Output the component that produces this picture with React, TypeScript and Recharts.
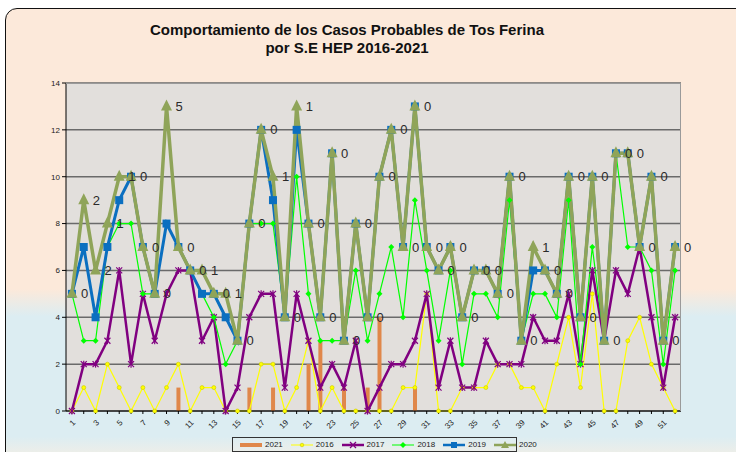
import { Bar, CartesianGrid, ComposedChart, LabelList, Line, XAxis, YAxis } from 'recharts';

const weeks = [
  1, 2, 3, 4, 5, 6, 7, 8, 9, 10, 11, 12, 13, 14, 15, 16, 17, 18, 19, 20, 21, 22, 23, 24, 25, 26,
  27, 28, 29, 30, 31, 32, 33, 34, 35, 36, 37, 38, 39, 40, 41, 42, 43, 44, 45, 46, 47, 48, 49, 50, 51, 52,
];
const cases2021 = [
  0, 0, 0, 0, 0, 0, 0, 0, 0, 1, 0, 0, 0, 0, 0, 1, 0, 1, 0, 0, 2, 3, 0, 1, 0, 1,
  4, 0, 0, 1, 0, 0, 0, 0, 0, 0, 0, 0, 0, 0, 0, 0, 0, 0, 0, 0, 0, 0, 0, 0, 0, 0,
];
const cases2016 = [
  0, 1, 0, 2, 1, 0, 1, 0, 1, 2, 0, 1, 1, 0, 0, 0, 2, 2, 0, 1, 3, 0, 1, 0, 0, 0,
  0, 0, 1, 1, 5, 0, 0, 1, 1, 1, 2, 2, 1, 1, 0, 2, 4, 1, 5, 0, 0, 3, 4, 2, 1, 0,
];
const cases2017 = [
  0, 2, 2, 3, 6, 2, 5, 3, 5, 6, 6, 3, 4, 0, 1, 4, 5, 5, 1, 5, 3, 1, 2, 1, 3, 0,
  1, 2, 2, 3, 5, 1, 3, 1, 1, 3, 2, 2, 2, 4, 3, 3, 5, 2, 6, 3, 6, 5, 7, 4, 1, 4,
];
const cases2018 = [
  5, 3, 3, 7, 8, 8, 5, 5, 8, 7, 6, 5, 4, 2, 3, 8, 8, 8, 4, 10, 5, 3, 3, 3, 6, 3,
  5, 7, 4, 9, 6, 3, 6, 2, 5, 5, 4, 9, 3, 5, 5, 4, 9, 2, 7, 3, 11, 7, 7, 6, 2, 6,
];
const cases2019 = [
  5, 7, 4, 7, 9, 10, 7, 5, 8, 7, 6, 5, 5, 4, 3, 8, 12, 9, 4, 12, 8, 4, 11, 3, 8, 4,
  10, 12, 7, 13, 7, 6, 7, 4, 6, 6, 5, 10, 3, 6, 6, 5, 10, 4, 10, 3, 11, 11, 7, 10, 3, 7,
];
const cases2020 = [
  5, 9, 6, 8, 10, 10, 7, 5, 13, 7, 6, 6, 5, 5, 3, 8, 12, 10, 4, 13, 8, 4, 11, 3, 8, 4,
  10, 12, 7, 13, 7, 6, 7, 4, 6, 6, 5, 10, 3, 7, 6, 5, 10, 4, 10, 3, 11, 11, 7, 10, 3, 7,
];
// etiquetas que aparecen junto a la serie 2020
const labels2020 = [
  0, 2, 2, 1, 1, 0, 0, 0, 5, 0, 0, 1, 0, 1, 0, 0, 0, 1, 0, 1, 0, 0, 0, 0, 0, 0,
  0, 0, 0, 0, 0, 0, 0, 0, 0, 0, 0, 0, 0, 1, 0, 0, 0, 0, 0, 0, 0, 0, 0, 0, 0, 0,
];
const yTicks = [0, 2, 4, 6, 8, 10, 12, 14];
const seriesNames = ['2021', '2016', '2017', '2018', '2019', '2020'];

const data = weeks.map((w, i) => ({
  week: w,
  s2021: cases2021[i],
  s2016: cases2016[i],
  s2017: cases2017[i],
  s2018: cases2018[i],
  s2019: cases2019[i],
  s2020: cases2020[i],
  lbl: labels2020[i],
}));

const C = {
  s2021: '#E0874A',
  s2016: '#FFFF00',
  s2017: '#800080',
  s2018: '#00FF00',
  s2019: '#0B6FC0',
  s2020: '#8FA459',
};

const FONT = '"Liberation Sans", Arial, sans-serif';

const SquareDot = (p: any) => (
  <rect key={`sq${p.index}`} x={p.cx - 4} y={p.cy - 4} width={8} height={8} fill={C.s2019} />
);
const TriDot = (p: any) => (
  <polygon
    key={`tr${p.index}`}
    points={`${p.cx},${p.cy - 7} ${p.cx - 5.5},${p.cy + 4} ${p.cx + 5.5},${p.cy + 4}`}
    fill={C.s2020}
  />
);
const DiamondDot = (p: any) => (
  <polygon
    key={`dm${p.index}`}
    points={`${p.cx},${p.cy - 3} ${p.cx + 3},${p.cy} ${p.cx},${p.cy + 3} ${p.cx - 3},${p.cy}`}
    fill={C.s2018}
  />
);
const StarDot = (p: any) => (
  <g key={`st${p.index}`} stroke={C.s2017} strokeWidth={1.2}>
    <line x1={p.cx - 3} y1={p.cy - 3} x2={p.cx + 3} y2={p.cy + 3} />
    <line x1={p.cx - 3} y1={p.cy + 3} x2={p.cx + 3} y2={p.cy - 3} />
    <line x1={p.cx} y1={p.cy - 3.5} x2={p.cx} y2={p.cy + 3.5} />
  </g>
);
const CircleDot = (p: any) => (
  <circle key={`ci${p.index}`} cx={p.cx} cy={p.cy} r={2} fill={C.s2016} stroke="#C9C900" strokeWidth={0.6} />
);

const XTick = (p: any) => {
  const { x, y, payload } = p;
  if (payload.value % 2 === 0) return <g />;
  return (
    <text
      transform={`translate(${x + 4},${y + 7}) rotate(-45)`}
      textAnchor="end"
      fontSize={8}
      fontFamily={FONT}
      fill="#222"
    >
      {payload.value}
    </text>
  );
};

const renderLabel = (p: any) => {
  const { x, y, value, index } = p;
  return (
    <text key={`lb${index}`} x={x + 9} y={y + 4.5} fontSize={13} fontFamily={FONT} fill="#2a2a2a">
      {value}
    </text>
  );
};

const LegendSwatch = ({ name }: { name: string }) => {
  const key = `s${name}` as keyof typeof C;
  const color = C[key];
  return (
    <svg width={22} height={10} style={{ display: 'block' }}>
      {name === '2021' ? (
        <rect x={0} y={3} width={22} height={4} fill={color} />
      ) : (
        <g>
          <line x1={0} y1={5} x2={22} y2={5} stroke={color} strokeWidth={name === '2016' || name === '2018' ? 1 : 2.5} />
          {name === '2016' && <circle cx={11} cy={5} r={1.8} fill={color} stroke="#C9C900" strokeWidth={0.6} />}
          {name === '2017' && (
            <g stroke={color} strokeWidth={1.2}>
              <line x1={8} y1={2} x2={14} y2={8} />
              <line x1={8} y1={8} x2={14} y2={2} />
            </g>
          )}
          {name === '2018' && <polygon points="11,2 14,5 11,8 8,5" fill={color} />}
          {name === '2019' && <rect x={8} y={2} width={6} height={6} fill={color} />}
          {name === '2020' && <polygon points="11,1 15,8 7,8" fill={color} />}
        </g>
      )}
    </svg>
  );
};

export default function App() {
  return (
    <div
      style={{
        position: 'absolute',
        left: 0,
        top: 0,
        width: 736,
        height: 452,
        overflow: 'hidden',
        background: '#fff',
        fontFamily: FONT,
      }}
    >
      <div
        style={{
          position: 'absolute',
          left: 5,
          top: 8,
          width: 800,
          height: 500,
          border: '1.5px solid #111',
          borderRadius: 12,
          background:
            'linear-gradient(to bottom, #FCE9DA 0%, #FCE9DA 56%, #DCEDF2 61.5%, #DCEDF2 85.5%, #EEEEE8 89%)',
        }}
      />
      <div
        style={{
          position: 'absolute',
          left: 0,
          width: 694,
          top: 21,
          textAlign: 'center',
          fontSize: 15,
          fontWeight: 'bold',
          lineHeight: '18px',
          color: '#111',
        }}
      >
        <div>Comportamiento de los Casos Probables de Tos Ferina</div>
        <div>por S.E HEP 2016-2021</div>
      </div>
      <div style={{ position: 'absolute', left: 0, top: 0 }}>
        <ComposedChart width={736} height={452} data={data} margin={{ top: 83, right: 55, bottom: 11, left: 0 }}>
          <CartesianGrid vertical={false} fill="#E2DFDC" stroke="#6a6a6a" strokeWidth={1.5} />
          <XAxis
            dataKey="week"
            interval={0}
            height={30}
            tick={<XTick />}
            tickSize={3}
            axisLine={{ stroke: '#000' }}
            tickLine={{ stroke: '#000' }}
          />
          <YAxis
            width={66}
            domain={[0, 14]}
            ticks={yTicks}
            tickSize={4}
            tick={{ fontSize: 8, fill: '#222', fontFamily: FONT }}
            axisLine={{ stroke: '#000' }}
            tickLine={{ stroke: '#000' }}
          />
          <Bar dataKey="s2021" name={seriesNames[0]} fill={C.s2021} barSize={4} isAnimationActive={false} />
          <Line
            dataKey="s2016"
            name={seriesNames[1]}
            stroke={C.s2016}
            strokeWidth={1.2}
            dot={CircleDot}
            isAnimationActive={false}
          />
          <Line
            dataKey="s2017"
            name={seriesNames[2]}
            stroke={C.s2017}
            strokeWidth={2.5}
            dot={StarDot}
            isAnimationActive={false}
          />
          <Line
            dataKey="s2018"
            name={seriesNames[3]}
            stroke={C.s2018}
            strokeWidth={1.2}
            dot={DiamondDot}
            isAnimationActive={false}
          />
          <Line
            dataKey="s2019"
            name={seriesNames[4]}
            stroke={C.s2019}
            strokeWidth={3}
            dot={SquareDot}
            isAnimationActive={false}
          />
          <Line
            dataKey="s2020"
            name={seriesNames[5]}
            stroke={C.s2020}
            strokeWidth={3.5}
            dot={TriDot}
            isAnimationActive={false}
          >
            <LabelList dataKey="lbl" content={renderLabel} />
          </Line>
        </ComposedChart>
      </div>
      <div
        style={{
          position: 'absolute',
          left: 66,
          top: 83,
          width: 615,
          height: 328,
          borderTop: '1px solid #9a9a9a',
          borderRight: '1px solid #9a9a9a',
          boxSizing: 'border-box',
          pointerEvents: 'none',
        }}
      />
      <div
        style={{
          position: 'absolute',
          left: 232,
          top: 437,
          width: 285,
          height: 15,
          border: '1px solid #333',
          boxSizing: 'border-box',
          display: 'flex',
          alignItems: 'center',
          paddingLeft: 7,
          fontSize: 8,
          color: '#222',
        }}
      >
        {seriesNames.map((n) => (
          <div key={n} style={{ display: 'flex', alignItems: 'center', marginRight: 8 }}>
            <LegendSwatch name={n} />
            <span style={{ marginLeft: 3 }}>{n}</span>
          </div>
        ))}
      </div>
    </div>
  );
}
